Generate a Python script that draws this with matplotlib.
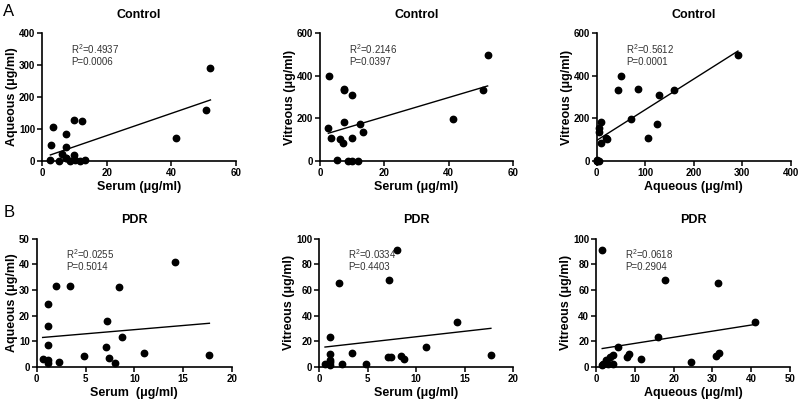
import numpy as np
import matplotlib
matplotlib.use("Agg")
import matplotlib.pyplot as plt

plt.rcParams['font.family'] = ['Liberation Sans', 'DejaVu Sans']
plt.rcParams['mathtext.fontset'] = 'custom'
plt.rcParams['mathtext.rm'] = 'Liberation Sans'

# -- Control group -------------------------------------------------------
ctrl_serum = [2.6, 2.9, 3.3, 5.4, 6.1, 7.3, 7.4, 7.5, 7.4, 8.8, 9.8, 9.9,
              10.1, 11.7, 12.4, 13.4, 41.3, 50.6, 52.1]
ctrl_aq = [4, 49, 105, 0, 22, 8, 9, 85, 44, 0, 129, 18,
           4, 0, 125, 4, 71, 159, 291]
ctrl_vit = [156, 400, 109, 3, 103, 84, 183, 338, 331, 0, 311, 109,
            0, 0, 172, 136, 199, 331, 497]

# -- PDR group -----------------------------------------------------------
pdr_serum = [0.6, 1.1, 1.1, 1.1, 1.1, 1.1, 2.0, 2.3, 3.4, 4.8, 7.2, 7.1,
             7.4, 8.0, 8.4, 8.7, 11.0, 14.2, 17.7]
pdr_aq = [3.0, 24.5, 15.9, 8.4, 2.6, 1.6, 31.5, 1.8, 31.6, 4.3, 17.9, 7.9,
          3.5, 1.6, 31.0, 11.7, 5.6, 41.1, 4.5]
pdr_vit = [2.6, 3.9, 23.4, 10.4, 5.5, 1.8, 65.8, 2.0, 10.8, 2.6, 67.9, 7.8,
           7.5, 91.5, 8.8, 6.2, 15.3, 34.7, 9.6]

stats = [("0.4937", "0.0006"), ("0.2146", "0.0397"), ("0.5612", "0.0001"),
         ("0.0255", "0.5014"), ("0.0334", "0.4403"), ("0.0618", "0.2904")]

panels = [
    # x, y, title, xlabel, ylabel, xmax, xstep, ymax, ystep, rect
    (ctrl_serum, ctrl_aq, "Control", "Serum (\u03bcg/ml)", "Aqueous (\u03bcg/ml)",
     60, 20, 400, 100, [0.0525, 0.5985, 0.2425, 0.319]),
    (ctrl_serum, ctrl_vit, "Control", "Serum (\u03bcg/ml)", "Vitreous (\u03bcg/ml)",
     60, 20, 600, 200, [0.400, 0.5985, 0.2413, 0.319]),
    (ctrl_aq, ctrl_vit, "Control", "Aqueous (\u03bcg/ml)", "Vitreous (\u03bcg/ml)",
     400, 100, 600, 200, [0.746, 0.5985, 0.2425, 0.319]),
    (pdr_serum, pdr_aq, "PDR", "Serum  (\u03bcg/ml)", "Aqueous (\u03bcg/ml)",
     20, 5, 50, 10, [0.046, 0.0848, 0.2438, 0.320]),
    (pdr_serum, pdr_vit, "PDR", "Serum (\u03bcg/ml)", "Vitreous (\u03bcg/ml)",
     20, 5, 100, 20, [0.399, 0.0848, 0.2425, 0.320]),
    (pdr_aq, pdr_vit, "PDR", "Aqueous (\u03bcg/ml)", "Vitreous (\u03bcg/ml)",
     50, 10, 100, 20, [0.745, 0.0848, 0.2425, 0.320]),
]

fig = plt.figure(figsize=(8.0, 4.01), dpi=100)

for (x, y, title, xl, yl, xmax, xstep, ymax, ystep, rect), (r2, p) in zip(panels, stats):
    ax = fig.add_axes(rect)
    x = np.array(x, dtype=float)
    y = np.array(y, dtype=float)
    ax.plot(x, y, 'o', color='black', markersize=4.6, clip_on=False, zorder=3)

    # linear regression line over the data range
    k, b = np.polyfit(x, y, 1)
    xs = np.array([x.min(), x.max()])
    ax.plot(xs, k * xs + b, color='black', linewidth=1.0)

    ax.set_xlim(0, xmax)
    ax.set_ylim(0, ymax)
    ax.set_xticks(np.arange(0, xmax + 0.1, xstep))
    ax.set_yticks(np.arange(0, ymax + 0.1, ystep))
    for s in ['top', 'right']:
        ax.spines[s].set_visible(False)
    for s in ['left', 'bottom']:
        ax.spines[s].set_linewidth(1.2)
    ax.tick_params(direction='out', length=3.5, width=1.1, labelsize=7, pad=1.5)
    for lbl in ax.get_xticklabels() + ax.get_yticklabels():
        lbl.set_fontweight('bold')

    ax.set_title(title, fontsize=9, fontweight='bold', pad=11)
    ax.set_xlabel(xl, fontsize=9, fontweight='bold', labelpad=2)
    ax.set_ylabel(yl, fontsize=9, fontweight='bold', labelpad=0.5)

    ax.text(0.15, 0.93, f"R$^2$=" + r2 + "\nP=" + p, transform=ax.transAxes,
            fontsize=7, va='top', ha='left', linespacing=1.1, color='#333333')

fig.text(0.004, 0.99, "A", fontsize=12, va='top', ha='left')
fig.text(0.004, 0.488, "B", fontsize=12, va='top', ha='left')

fig.savefig("out.png", dpi=100)
